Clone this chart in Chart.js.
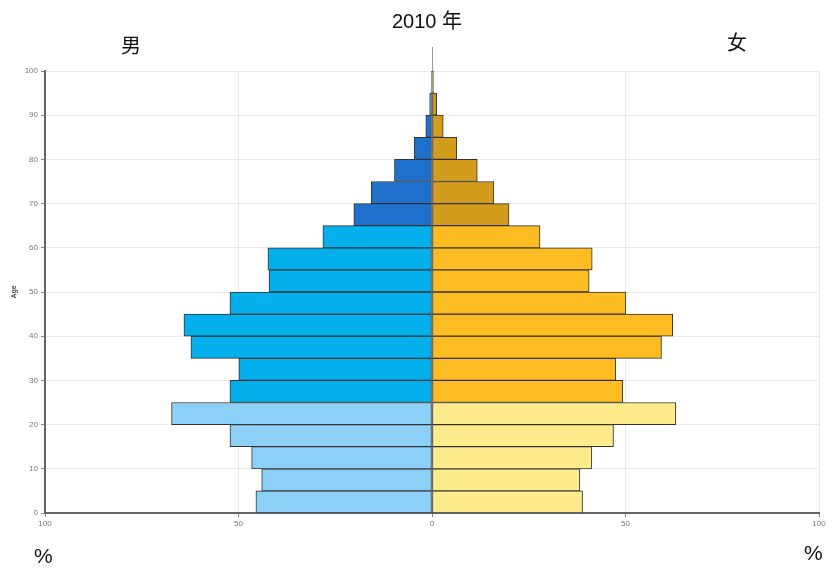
<!DOCTYPE html>
<html>
<head>
<meta charset="utf-8">
<script src="https://cdn.jsdelivr.net/npm/chart.js@4"></script>
<style>
  html, body { margin: 0; padding: 0; background: #fff; }
  #wrap {
    position: relative;
    width: 833px;
    height: 571px;
    font-family: "Liberation Sans", Arial, "Noto Sans CJK SC", sans-serif;
  }
  .lbl { position: absolute; color: #111; white-space: nowrap; line-height: 1; }
</style>
</head>
<body>
<div id="wrap">
  <canvas id="pyramid" width="833" height="571"></canvas>
  <div class="lbl" style="left:392px; top:11px; font-size:20px;">2010 年</div>
  <div class="lbl" style="left:121px; top:36px; font-size:20px;">男</div>
  <div class="lbl" style="left:727px; top:33px; font-size:20px;">女</div>
  <div class="lbl" style="left:34px; top:545px; font-size:21px;">%</div>
  <div class="lbl" style="left:804px; top:542px; font-size:21px;">%</div>
</div>
<script>
// age groups (start of each 5-year band)
const ageStarts = [0, 5, 10, 15, 20, 25, 30, 35, 40, 45, 50, 55, 60, 65, 70, 75, 80, 85, 90, 95];

// values (male drawn to the left)
const male = [45.5, 44.0, 46.6, 52.2, 67.3, 52.2, 49.9, 62.3, 64.1, 52.2,
              42.1, 42.4, 28.2, 20.2, 15.7, 9.7, 4.6, 1.6, 0.6, 0.2];
const female = [38.9, 38.2, 41.3, 46.9, 63.0, 49.3, 47.5, 59.3, 62.2, 50.1,
                40.6, 41.4, 27.9, 19.9, 16.0, 11.7, 6.4, 2.9, 1.2, 0.4];

const xTicks = [-100, -50, 0, 50, 100];
const yTicks = [0, 10, 20, 30, 40, 50, 60, 70, 80, 90, 100];

// colours: young / working age / old
const maleColors = ["#8ccff7", "#04b0ec", "#1f70cc"];
const femaleColors = ["#ffea8c", "#fdbc22", "#d49c1c"];

function shade(age, colors) {
  if (age < 25) return colors[0];
  if (age < 65) return colors[1];
  return colors[2];
}

Chart.defaults.font.family = '"Liberation Sans", Arial, sans-serif';

// thin line above the plot at x = 0
const centerLine = {
  id: "centerLine",
  afterDraw(chart) {
    const { ctx, chartArea, scales } = chart;
    const x = scales.x.getPixelForValue(0);
    ctx.save();
    ctx.strokeStyle = "#9a9a9a";
    ctx.lineWidth = 1;
    ctx.beginPath();
    ctx.moveTo(x + 0.5, chartArea.top - 24);
    ctx.lineTo(x + 0.5, chartArea.top);
    ctx.stroke();
    ctx.restore();
  }
};

const barStyle = {
  borderColor: "#333",
  borderWidth: 1,
  borderSkipped: false,
  grouped: false,
  barPercentage: 1,
  categoryPercentage: 1
};

const ctx = document.getElementById("pyramid").getContext("2d");
new Chart(ctx, {
  type: "bar",
  data: {
    datasets: [
      Object.assign({
        label: "男",
        data: ageStarts.map((a, i) => ({ x: -male[i], y: a + 2.5 })),
        backgroundColor: ageStarts.map(a => shade(a, maleColors))
      }, barStyle),
      Object.assign({
        label: "女",
        data: ageStarts.map((a, i) => ({ x: female[i], y: a + 2.5 })),
        backgroundColor: ageStarts.map(a => shade(a, femaleColors))
      }, barStyle)
    ]
  },
  options: {
    indexAxis: "y",
    responsive: false,
    animation: false,
    layout: { padding: { left: 10, right: 14, top: 71, bottom: 38 } },
    plugins: {
      legend: { display: false },
      tooltip: { enabled: false }
    },
    scales: {
      x: {
        type: "linear",
        min: xTicks[0],
        max: xTicks[xTicks.length - 1],
        afterBuildTicks: s => { s.ticks = xTicks.map(v => ({ value: v })); },
        ticks: {
          callback: v => Math.abs(v),
          font: { size: 8 },
          color: "#777",
          padding: 2,
          maxRotation: 0
        },
        grid: { color: "#ebebeb", tickLength: 4, tickColor: "#888" },
        border: { color: "#666", width: 2 },
        afterFit: s => { s.height = 20; }
      },
      y: {
        type: "linear",
        offset: false,
        min: yTicks[0],
        max: yTicks[yTicks.length - 1],
        afterBuildTicks: s => { s.ticks = yTicks.map(v => ({ value: v })); },
        ticks: {
          font: { size: 8 },
          color: "#777",
          padding: 3
        },
        grid: { offset: false, color: "#ebebeb", tickLength: 4, tickColor: "#888" },
        border: { color: "#666", width: 2 },
        title: {
          display: true,
          text: "Age",
          font: { size: 7, weight: "bold" },
          color: "#444",
          padding: 0
        },
        afterFit: s => { s.width = 35; }
      }
    }
  },
  plugins: [centerLine]
});
</script>
</body>
</html>
